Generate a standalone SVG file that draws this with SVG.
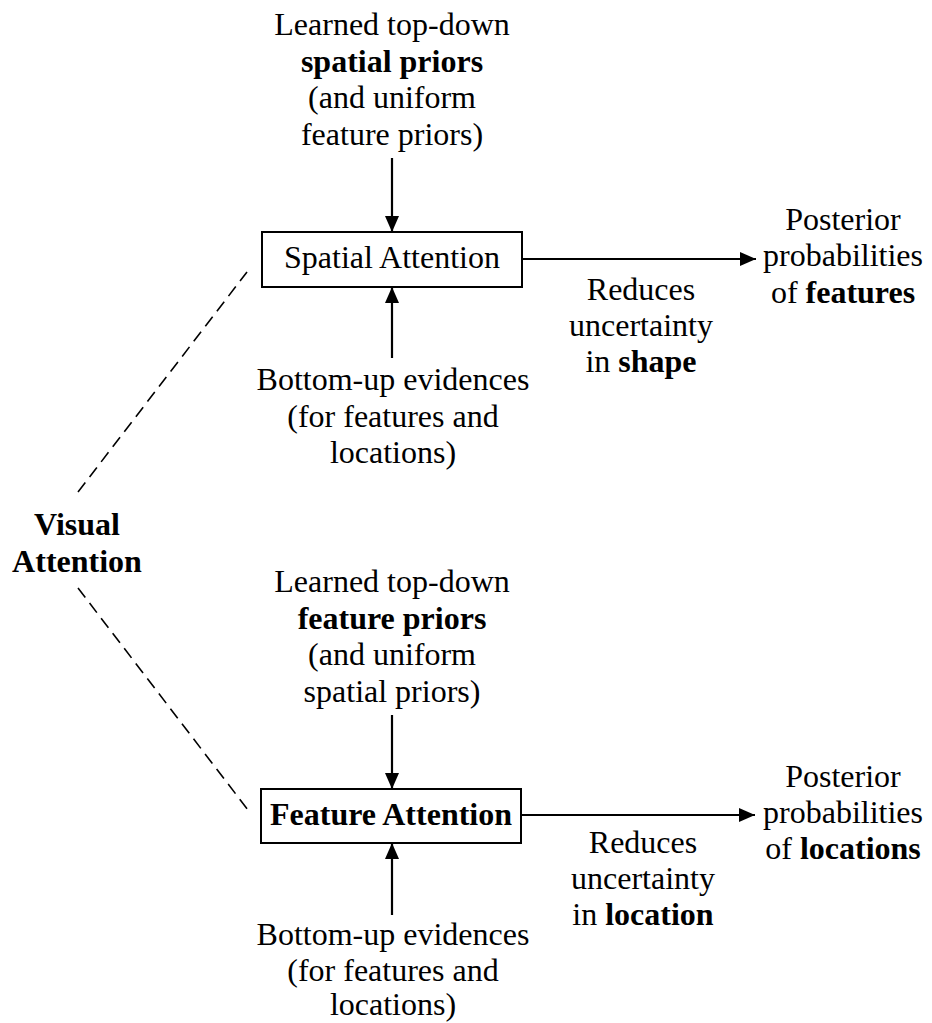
<svg xmlns="http://www.w3.org/2000/svg" width="932" height="1023" viewBox="0 0 932 1023">
  <defs>
    <marker id="arrow" markerUnits="userSpaceOnUse" markerWidth="18" markerHeight="14" refX="16" refY="7" orient="auto">
      <path d="M0,0 L16,7 L0,14 Z" fill="#000"/>
    </marker>
    <style>
      text { font-family: "Liberation Serif", "Times New Roman", serif; font-size: 32px; fill: #000; text-anchor: middle; }
      .b { font-weight: bold; }
      .box { fill: #fff; stroke: #000; stroke-width: 2; }
      .link { stroke: #000; stroke-width: 2.2; fill: none; }
      .dash { stroke: #000; stroke-width: 1.6; fill: none; stroke-dasharray: 12 7; }
    </style>
  </defs>
  <rect width="932" height="1023" fill="#fff"/>

  <!-- connectors -->
  <g id="connectors">
    <line class="link" x1="392" y1="158" x2="392" y2="232" marker-end="url(#arrow)"/>
    <line class="link" x1="392" y1="358" x2="392" y2="287" marker-end="url(#arrow)"/>
    <line class="link" x1="522" y1="259" x2="756" y2="259" marker-end="url(#arrow)"/>
    <line class="link" x1="392" y1="715" x2="392" y2="789" marker-end="url(#arrow)"/>
    <line class="link" x1="392" y1="915" x2="392" y2="843" marker-end="url(#arrow)"/>
    <line class="link" x1="521" y1="815" x2="755" y2="815" marker-end="url(#arrow)"/>
    <line class="dash" x1="78" y1="492" x2="247" y2="272"/>
    <line class="dash" x1="78" y1="588" x2="248" y2="810"/>
  </g>

  <!-- root label -->
  <g id="visual-attention">
    <text class="b" x="77" y="535">Visual</text>
    <text class="b" x="77" y="572">Attention</text>
  </g>

  <!-- spatial branch -->
  <g id="spatial-priors">
    <text x="392" y="35">Learned top-down</text>
    <text class="b" x="392" y="72">spatial priors</text>
    <text x="392" y="108">(and uniform</text>
    <text x="392" y="145">feature priors)</text>
  </g>
  <g id="spatial-attention">
    <rect class="box" x="262" y="232" width="260" height="55"/>
    <text x="392" y="268">Spatial Attention</text>
  </g>
  <g id="spatial-evidence">
    <text x="393" y="390">Bottom-up evidences</text>
    <text x="393" y="427">(for features and</text>
    <text x="393" y="463">locations)</text>
  </g>
  <g id="spatial-effect">
    <text x="641" y="300">Reduces</text>
    <text x="641" y="336">uncertainty</text>
    <text x="641" y="372">in <tspan class="b">shape</tspan></text>
  </g>
  <g id="posterior-features">
    <text x="843" y="230">Posterior</text>
    <text x="843" y="266">probabilities</text>
    <text x="843" y="303">of <tspan class="b">features</tspan></text>
  </g>

  <!-- feature branch -->
  <g id="feature-priors">
    <text x="392" y="592">Learned top-down</text>
    <text class="b" x="392" y="629">feature priors</text>
    <text x="392" y="665">(and uniform</text>
    <text x="392" y="702">spatial priors)</text>
  </g>
  <g id="feature-attention">
    <rect class="box" x="261" y="789" width="260" height="54"/>
    <text class="b" x="391" y="825">Feature Attention</text>
  </g>
  <g id="feature-evidence">
    <text x="393" y="945">Bottom-up evidences</text>
    <text x="393" y="981">(for features and</text>
    <text x="393" y="1015">locations)</text>
  </g>
  <g id="feature-effect">
    <text x="643" y="853">Reduces</text>
    <text x="643" y="889">uncertainty</text>
    <text x="643" y="925">in <tspan class="b">location</tspan></text>
  </g>
  <g id="posterior-locations">
    <text x="843" y="787">Posterior</text>
    <text x="843" y="823">probabilities</text>
    <text x="843" y="859">of <tspan class="b">locations</tspan></text>
  </g>
</svg>
